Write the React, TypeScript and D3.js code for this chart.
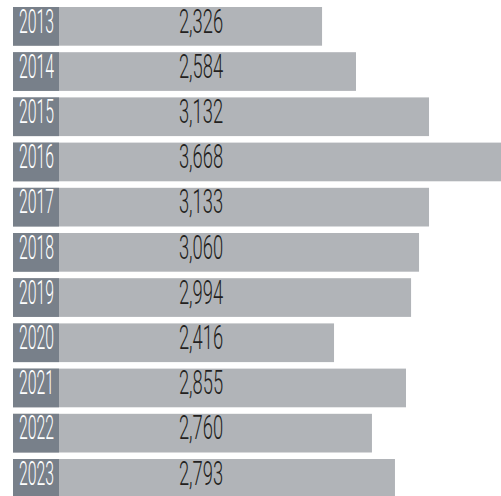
import React, { useRef, useEffect } from 'react';
import * as d3 from 'd3';

// printed figures
const years = ['2013', '2014', '2015', '2016', '2017', '2018', '2019', '2020', '2021', '2022', '2023'];
const labelValues = [2326, 2584, 3132, 3668, 3133, 3060, 2994, 2416, 2855, 2760, 2793];
// bar lengths as drawn in the picture (last rows don't quite match the labels)
const barValues = [2323, 2578, 3127, 3668, 3127, 3052, 2992, 2413, 2954, 2698, 2871];

export default function App() {
  const svgRef = useRef<SVGSVGElement | null>(null);

  useEffect(() => {
    const width = 501;
    const height = 496;
    const left = 13;
    const boxW = 46;

    const svg = d3.select(svgRef.current).attr('width', width).attr('height', height);
    svg.selectAll('*').remove();

    const y = d3.scaleBand<string>().domain(years).range([7, 497.7]).paddingInner(0.144).paddingOuter(0);
    const x = d3.scaleLinear().domain([0, d3.max(barValues) as number]).range([left, width]);

    const rows = years.map((yr, i) => ({ yr, label: labelValues[i], bar: barValues[i] }));
    const fmt = d3.format(',');

    const g = svg.selectAll('g.row').data(rows).join('g').attr('class', 'row')
      .attr('transform', (d) => `translate(0,${y(d.yr)})`);

    g.append('rect')
      .attr('x', left)
      .attr('width', (d) => x(d.bar) - left)
      .attr('height', y.bandwidth())
      .attr('fill', '#b1b4b8');

    g.append('rect')
      .attr('x', left)
      .attr('width', boxW)
      .attr('height', y.bandwidth())
      .attr('fill', '#78808a');

    const font = 'Roboto, "DejaVu Sans Condensed", sans-serif';

    g.append('text')
      .attr('transform', `translate(${left + boxW / 2 + 0.5},25.5) scale(0.465,1)`)
      .attr('text-anchor', 'middle')
      .attr('font-family', font)
      .attr('font-weight', 300)
      .attr('font-size', 34)
      .attr('fill', '#ffffff')
      .text((d) => d.yr);

    g.append('text')
      .attr('transform', `translate(201,25.5) scale(0.54,1)`)
      .attr('text-anchor', 'middle')
      .attr('font-family', font)
      .attr('font-weight', 300)
      .attr('font-size', 34)
      .attr('fill', '#231f20')
      .text((d) => fmt(d.label));
  }, []);

  return (
    <div style={{ position: 'absolute', left: 0, top: 0 }}>
      <svg ref={svgRef} style={{ display: 'block' }} />
    </div>
  );
}
